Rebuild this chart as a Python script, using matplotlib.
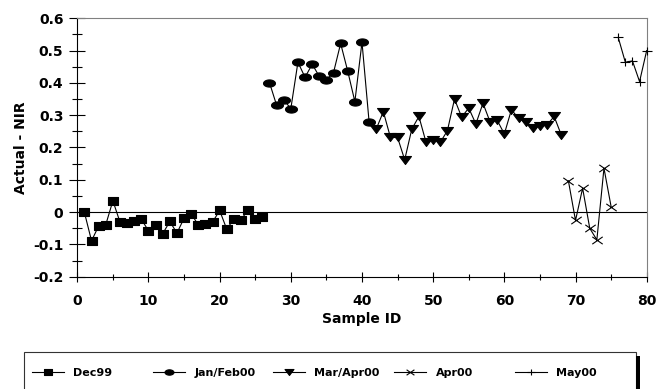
import numpy as np
import matplotlib
matplotlib.use("Agg")
import matplotlib.pyplot as plt
from matplotlib.path import Path
from matplotlib.lines import Line2D
from matplotlib.patches import Rectangle
from matplotlib.ticker import MultipleLocator, FuncFormatter

plt.rcParams['font.family'] = 'DejaVu Sans'
plt.rcParams['font.weight'] = 'bold'
plt.rcParams['axes.unicode_minus'] = False

# values (first sample id of each batch + residuals)
dec99_start = 1
dec99 = [-0.001, -0.089, -0.043, -0.039, 0.035, -0.031, -0.034, -0.029, -0.022, -0.058,
         -0.040, -0.067, -0.029, -0.065, -0.019, -0.005, -0.040, -0.036, -0.031, 0.005,
         -0.053, -0.021, -0.024, 0.007, -0.021, -0.014]
janfeb00_start = 27
janfeb00 = [0.401, 0.331, 0.348, 0.320, 0.464, 0.417, 0.458, 0.420, 0.410, 0.432,
            0.522, 0.436, 0.342, 0.526, 0.279]
marapr00_start = 42
marapr00 = [0.257, 0.311, 0.231, 0.231, 0.162, 0.257, 0.296, 0.216, 0.224, 0.216,
            0.252, 0.350, 0.294, 0.322, 0.273, 0.337, 0.279, 0.284, 0.242, 0.317,
            0.290, 0.278, 0.260, 0.267, 0.270, 0.296, 0.239]
apr00_start = 69
apr00 = [0.097, -0.026, 0.074, -0.050, -0.086, 0.136, 0.017]
may00_start = 76
may00 = [0.541, 0.464, 0.468, 0.404, 0.500]

labels = ['Dec99', 'Jan/Feb00', 'Mar/Apr00', 'Apr00', 'May00']

# marker shapes (squashed like the original)
t = np.linspace(0, 2 * np.pi, 40)
m_rect = Path([(-1, -0.75), (1, -0.75), (1, 0.75), (-1, 0.75), (-1, -0.75)],
              [Path.MOVETO, Path.LINETO, Path.LINETO, Path.LINETO, Path.CLOSEPOLY])
m_ell = Path(np.column_stack([np.cos(t), 0.6 * np.sin(t)]))
m_tri = Path([(-1, 0.67), (1, 0.67), (0, -0.67), (-1, 0.67)],
             [Path.MOVETO, Path.LINETO, Path.LINETO, Path.CLOSEPOLY])
m_x = Path([(-1, -0.7), (1, 0.7), (-1, 0.7), (1, -0.7)],
           [Path.MOVETO, Path.LINETO, Path.MOVETO, Path.LINETO])
m_plus = Path([(-1, 0), (1, 0), (0, -0.7), (0, 0.7)],
              [Path.MOVETO, Path.LINETO, Path.MOVETO, Path.LINETO])

series = [
    (dec99_start, dec99, m_rect, 7.7, True),
    (janfeb00_start, janfeb00, m_ell, 8.6, True),
    (marapr00_start, marapr00, m_tri, 8.6, True),
    (apr00_start, apr00, m_x, 7.5, False),
    (may00_start, may00, m_plus, 7.5, False),
]

fig = plt.figure(figsize=(6.59, 3.89), dpi=100)
ax = fig.add_axes([0.1173, 0.2887, 0.864, 0.6643])

ax.axhline(0, color='black', lw=0.8, zorder=1)

handles = []
for (start, vals, mk, ms, filled), lab in zip(series, labels):
    x = np.arange(start, start + len(vals))
    ax.plot(x, vals, color='black', lw=0.8, marker=mk, ms=ms,
            mfc='black' if filled else 'none', mec='black', mew=0.8,
            clip_on=False, zorder=3)
    handles.append(Line2D([], [], color='black', lw=0.8, marker=mk, ms=ms * 0.75,
                          mfc='black' if filled else 'none', mec='black', mew=0.8,
                          label=lab))

ax.set_xlim(0, 80)
ax.set_ylim(-0.2, 0.6)
ax.xaxis.set_major_locator(MultipleLocator(10))
ax.xaxis.set_minor_locator(MultipleLocator(5))
ax.yaxis.set_major_locator(MultipleLocator(0.1))
ax.yaxis.set_minor_locator(MultipleLocator(0.05))
ax.yaxis.set_major_formatter(FuncFormatter(lambda v, p: '%g' % round(v, 2)))

ax.tick_params(axis='y', which='major', direction='inout', length=12, width=0.8, pad=4,
               labelsize=10)
ax.tick_params(axis='y', which='minor', direction='inout', length=7, width=0.8)
ax.tick_params(axis='x', which='major', direction='inout', length=7, width=0.8, pad=9,
               labelsize=10)
ax.tick_params(axis='x', which='minor', direction='inout', length=4.3, width=0.8)

for s in ['left', 'bottom']:
    ax.spines[s].set_linewidth(0.8)
    ax.spines[s].set_color('black')
for s in ['top', 'right']:
    ax.spines[s].set_linewidth(0.8)
    ax.spines[s].set_color('#808080')

ax.set_xlabel('Sample ID', fontsize=10, fontweight='bold')
ax.set_ylabel('Actual - NIR', fontsize=10, fontweight='bold')
ax.xaxis.set_label_coords(0.5, -0.135)
ax.yaxis.set_label_coords(-0.087, 0.5)

# legend frame, running off the bottom of the image, with a dark shadow on the right
fig.add_artist(Rectangle((24 / 659, -0.2), (636 - 24) / 659, 0.2 + (389 - 352) / 389,
                         transform=fig.transFigure, fill=False, lw=0.8,
                         edgecolor='#333333'))
fig.add_artist(Rectangle((636 / 659, -0.2), 4 / 659, 0.2 + (389 - 356) / 389,
                         transform=fig.transFigure, color='black', lw=0))

col_x = [31.7, 153, 273, 394, 515]
for h, cx in zip(handles, col_x):
    fig.legend(handles=[h], loc='center left',
               bbox_to_anchor=(cx / 659, 1 - 372.7 / 389),
               frameon=False, borderpad=0, borderaxespad=0,
               handlelength=2.88, handletextpad=0.85,
               prop={'size': 8, 'weight': 'bold'})

fig.savefig('out.png', dpi=100)
